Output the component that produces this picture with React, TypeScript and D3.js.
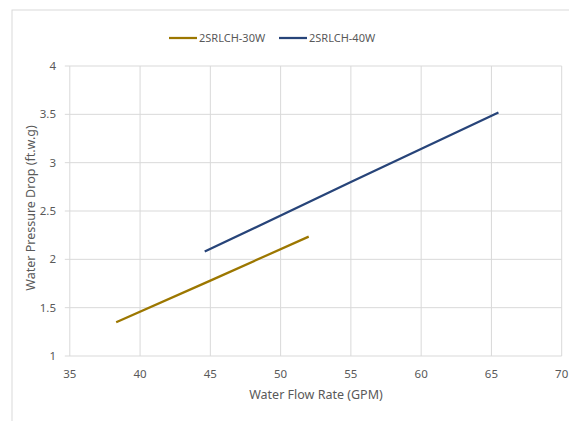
import React from "react";
import * as d3 from "d3";

const series30Flow = [38.3, 45, 52];
const series30Drop = [1.35, 1.78, 2.235];
const series40Flow = [44.6, 55, 65.5];
const series40Drop = [2.08, 2.8, 3.52];
const seriesNames = ["2SRLCH-30W", "2SRLCH-40W"];
const seriesColors = ["#9C7700", "#274479"];
const xTicks = [35, 40, 45, 50, 55, 60, 65, 70];
const yTicks = [1, 1.5, 2, 2.5, 3, 3.5, 4];

const W = 569;
const H = 421;
const FONT = "'Noto Sans', 'Open Sans', sans-serif";
const TEXT = "#595959";

export default function App() {
  const x = d3.scaleLinear().domain([35, 70]).range([69.8, 561.7]);
  const y = d3.scaleLinear().domain([1, 4]).range([356, 66]);

  const line = d3
    .line<[number, number]>()
    .x((d) => x(d[0]))
    .y((d) => y(d[1]));

  const data: [number, number][][] = [
    series30Flow.map((f, i) => [f, series30Drop[i]] as [number, number]),
    series40Flow.map((f, i) => [f, series40Drop[i]] as [number, number]),
  ];

  const legend = [
    { x0: 169, tx: 199 },
    { x0: 279, tx: 309 },
  ];

  return (
    <svg
      width={W}
      height={H}
      style={{ position: "absolute", left: 0, top: 0, background: "#fff" }}
    >
      <rect x={12} y={10} width={W} height={H} fill="#fff" stroke="#d9d9d9" strokeWidth={1} />

      {/* gridlines */}
      {xTicks.map((t) => (
        <line key={"gx" + t} x1={x(t)} x2={x(t)} y1={y(4)} y2={y(1)} stroke="#d9d9d9" strokeWidth={1} />
      ))}
      {yTicks.map((t) => (
        <line key={"gy" + t} x1={x(35) - 5} x2={x(70)} y1={y(t)} y2={y(t)} stroke="#d9d9d9" strokeWidth={1} />
      ))}

      {/* tick labels */}
      {yTicks.map((t) => (
        <text
          key={"ly" + t}
          x={56}
          y={y(t)}
          dy="0.35em"
          textAnchor="end"
          fontFamily={FONT}
          fontSize={11.5}
          fill={TEXT}
        >
          {t}
        </text>
      ))}
      {xTicks.map((t) => (
        <text
          key={"lx" + t}
          x={x(t)}
          y={378}
          textAnchor="middle"
          fontFamily={FONT}
          fontSize={11.5}
          fill={TEXT}
        >
          {t}
        </text>
      ))}

      {/* axis titles */}
      <text x={316} y={399} textAnchor="middle" fontFamily={FONT} fontSize={12.5} fill={TEXT}>
        Water Flow Rate (GPM)
      </text>
      <text
        transform="translate(35,208) rotate(-90)"
        textAnchor="middle"
        fontFamily={FONT}
        fontSize={12.5}
        fill={TEXT}
      >
        Water Pressure Drop (ft.w.g)
      </text>

      {/* series */}
      {data.map((d, i) => (
        <path key={"s" + i} d={line(d) || ""} fill="none" stroke={seriesColors[i]} strokeWidth={2.25} />
      ))}

      {/* legend */}
      {legend.map((l, i) => (
        <g key={"lg" + i}>
          <line x1={l.x0} x2={l.x0 + 28} y1={38} y2={38} stroke={seriesColors[i]} strokeWidth={2.25} />
          <text x={l.tx} y={38} dy="0.35em" fontFamily={FONT} fontSize={11} fill={TEXT}>
            {seriesNames[i]}
          </text>
        </g>
      ))}
    </svg>
  );
}
